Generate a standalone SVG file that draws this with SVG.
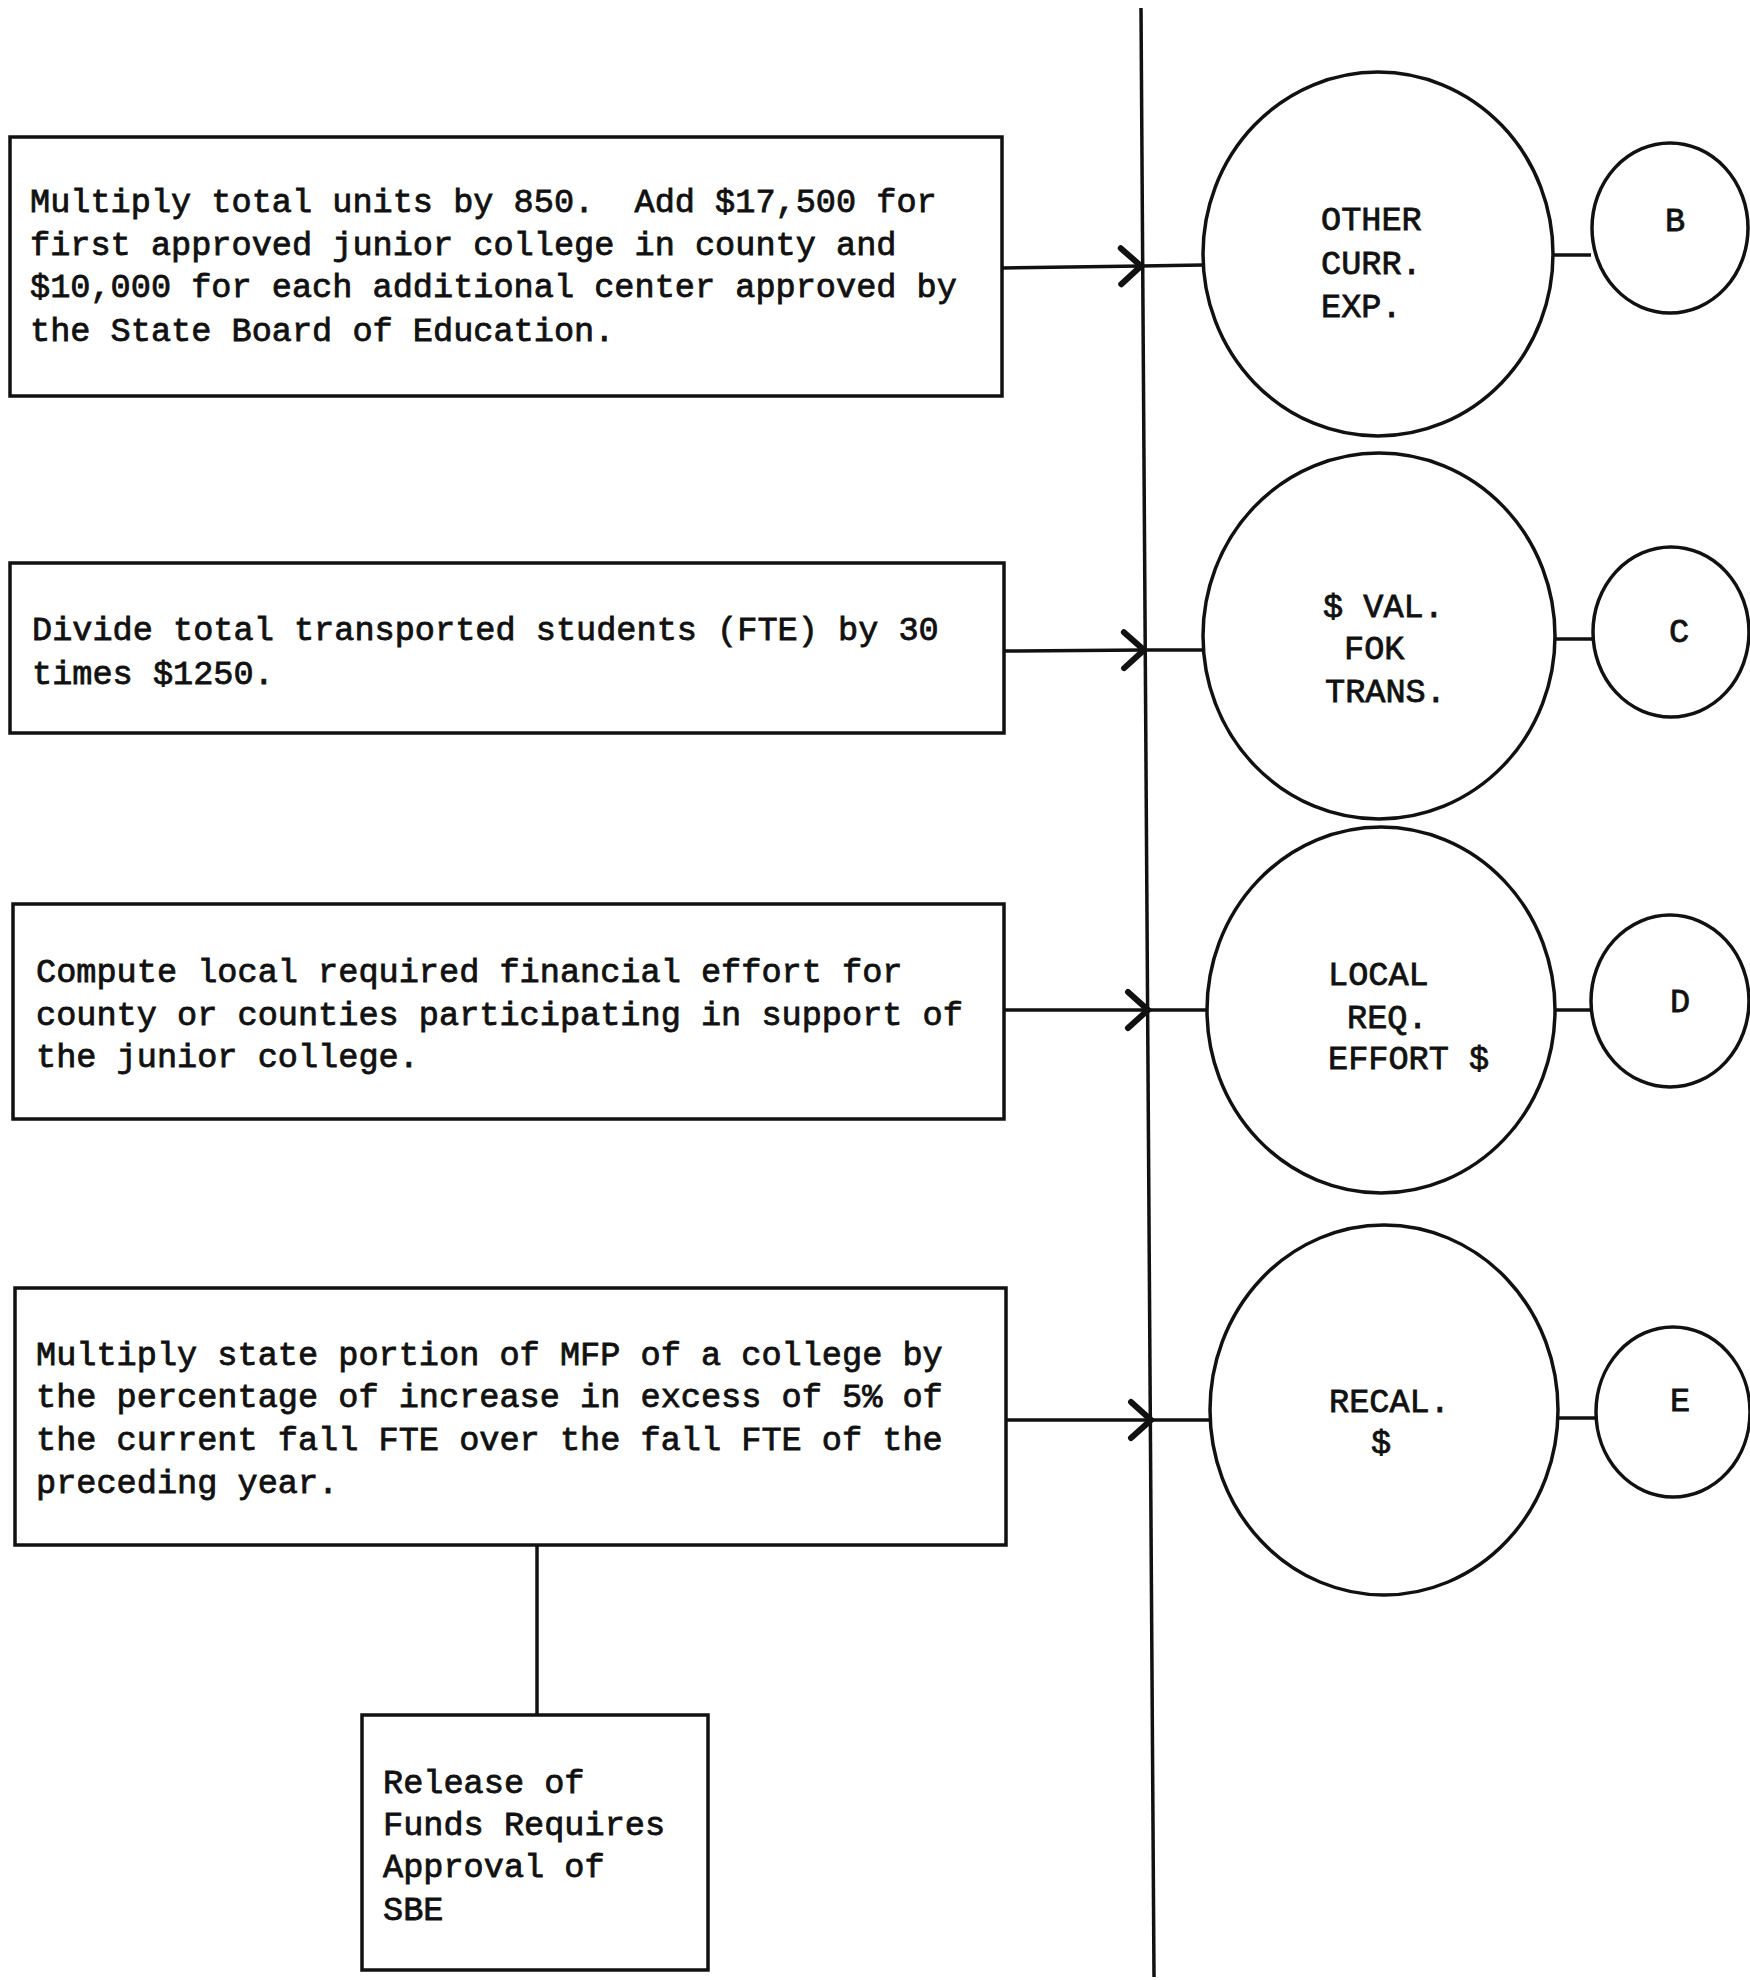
<svg xmlns="http://www.w3.org/2000/svg" width="1750" height="1980" viewBox="0 0 1750 1980">
<style>
.box{fill:none;stroke:#111;stroke-width:3.5}
.circ{fill:none;stroke:#111;stroke-width:3.5}
.ln{stroke:#111;stroke-width:3.5;fill:none}
.t{font-family:"Liberation Mono","DejaVu Sans Mono",monospace;font-size:33.6px;fill:#111;stroke:#111;stroke-width:0.8px;white-space:pre}
</style>
<defs>
<marker id="chev" markerUnits="userSpaceOnUse" markerWidth="30" markerHeight="44" viewBox="-26 -22 30 44" refX="0" refY="0" orient="auto">
<path d="M-20,-18 L0,0 L-20,18" fill="none" stroke="#111" stroke-width="6" stroke-linecap="round" stroke-linejoin="miter"/>
</marker>
</defs>
<rect width="1750" height="1980" fill="#fff"/>
<g id="connectors">
<line class="ln" x1="1141" y1="8" x2="1154" y2="1977"/>
<line class="ln" x1="1002" y1="268" x2="1141" y2="266" marker-end="url(#chev)"/>
<line class="ln" x1="1141" y1="266" x2="1203" y2="265"/>
<line class="ln" x1="1004" y1="651" x2="1144" y2="650" marker-end="url(#chev)"/>
<line class="ln" x1="1144" y1="650" x2="1205" y2="650"/>
<line class="ln" x1="1004" y1="1010" x2="1148" y2="1010" marker-end="url(#chev)"/>
<line class="ln" x1="1148" y1="1010" x2="1208" y2="1010"/>
<line class="ln" x1="1006" y1="1420" x2="1151" y2="1420" marker-end="url(#chev)"/>
<line class="ln" x1="1151" y1="1420" x2="1210" y2="1420"/>
<line class="ln" x1="1553" y1="255" x2="1591" y2="255"/>
<line class="ln" x1="1555" y1="639" x2="1593" y2="639"/>
<line class="ln" x1="1555" y1="1010" x2="1591" y2="1010"/>
<line class="ln" x1="1557" y1="1418" x2="1596" y2="1418"/>
<line class="ln" x1="537" y1="1545" x2="537" y2="1715"/>
</g>
<g id="box1">
<rect class="box" x="10" y="137" width="992" height="259"/>
<text class="t" x="30" y="212" xml:space="preserve">Multiply total units by 850.  Add $17,500 for</text>
<text class="t" x="30" y="255">first approved junior college in county and</text>
<text class="t" x="30" y="297">$10,000 for each additional center approved by</text>
<text class="t" x="30" y="341">the State Board of Education.</text>
</g>
<g id="box2">
<rect class="box" x="10" y="563" width="994" height="170"/>
<text class="t" x="32" y="640">Divide total transported students (FTE) by 30</text>
<text class="t" x="32" y="684">times $1250.</text>
</g>
<g id="box3">
<rect class="box" x="13" y="904" width="991" height="215"/>
<text class="t" x="36" y="982">Compute local required financial effort for</text>
<text class="t" x="36" y="1025">county or counties participating in support of</text>
<text class="t" x="36" y="1067">the junior college.</text>
</g>
<g id="box4">
<rect class="box" x="15" y="1288" width="991" height="257"/>
<text class="t" x="36" y="1365">Multiply state portion of MFP of a college by</text>
<text class="t" x="36" y="1407">the percentage of increase in excess of 5% of</text>
<text class="t" x="36" y="1450">the current fall FTE over the fall FTE of the</text>
<text class="t" x="36" y="1493">preceding year.</text>
</g>
<g id="box5">
<rect class="box" x="362" y="1715" width="346" height="255"/>
<text class="t" x="383" y="1793">Release of</text>
<text class="t" x="383" y="1835">Funds Requires</text>
<text class="t" x="383" y="1877">Approval of</text>
<text class="t" x="383" y="1920">SBE</text>
</g>
<g id="circle-other">
<ellipse class="circ" cx="1378" cy="254" rx="175" ry="182"/>
<text class="t" x="1321" y="230">OTHER</text>
<text class="t" x="1321" y="274">CURR.</text>
<text class="t" x="1321" y="317">EXP.</text>
</g>
<g id="circle-b">
<ellipse class="circ" cx="1670" cy="228" rx="78" ry="85"/>
<text class="t" x="1665" y="231">B</text>
</g>
<g id="circle-trans">
<ellipse class="circ" cx="1379" cy="636" rx="176" ry="183"/>
<text class="t" x="1323" y="617">$ VAL.</text>
<text class="t" x="1344" y="659">FOK</text>
<text class="t" x="1325" y="702">TRANS.</text>
</g>
<g id="circle-c">
<ellipse class="circ" cx="1671" cy="632" rx="78" ry="85"/>
<text class="t" x="1669" y="642">C</text>
</g>
<g id="circle-local">
<ellipse class="circ" cx="1381" cy="1010" rx="174" ry="183"/>
<text class="t" x="1328" y="985">LOCAL</text>
<text class="t" x="1347" y="1028">REQ.</text>
<text class="t" x="1328" y="1069">EFFORT $</text>
</g>
<g id="circle-d">
<ellipse class="circ" cx="1670" cy="1001" rx="79" ry="86"/>
<text class="t" x="1670" y="1012">D</text>
</g>
<g id="circle-recal">
<ellipse class="circ" cx="1384" cy="1410" rx="174" ry="185"/>
<text class="t" x="1329" y="1412">RECAL.</text>
<text class="t" x="1371" y="1453">$</text>
</g>
<g id="circle-e">
<ellipse class="circ" cx="1673" cy="1412" rx="77" ry="85"/>
<text class="t" x="1670" y="1411">E</text>
</g>
</svg>
